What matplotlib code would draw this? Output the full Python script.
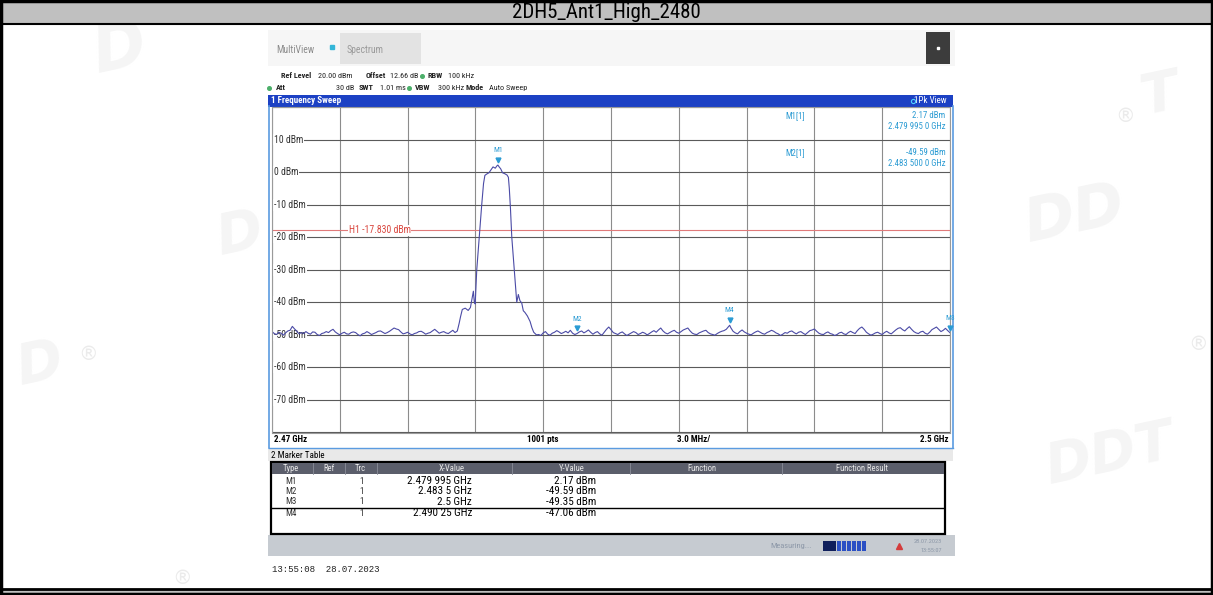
import matplotlib
matplotlib.use("Agg")
import matplotlib.pyplot as plt
from matplotlib.patches import Rectangle
from matplotlib import font_manager

W, H = 1213, 595

# ---- data ----
start_ghz = 2.47
stop_ghz = 2.5
ref_level = 20
bottom_level = -80
h1_level = -17.83
y_tick_levels = [10, 0, -10, -20, -30, -40, -50, -60, -70]

# trace: (MHz from start, dBm)
trace = [
    (0.0, -49.0), (0.1, -49.6), (0.2, -49.9), (0.3, -49.2), (0.4, -49.5), (0.5, -50.1),
    (0.6, -49.4), (0.7, -48.8), (0.8, -48.6), (0.9, -47.4), (1.0, -48.2), (1.1, -48.9),
    (1.2, -49.7), (1.3, -49.3), (1.4, -49.6), (1.5, -49.0), (1.6, -49.5), (1.7, -49.8),
    (1.8, -49.1), (1.9, -49.2), (2.0, -49.9), (2.1, -50.2), (2.2, -49.6), (2.3, -49.4),
    (2.4, -49.0), (2.5, -49.3), (2.6, -48.7), (2.7, -48.3), (2.8, -49.1), (2.9, -49.6),
    (3.0, -50.0), (3.1, -49.5), (3.2, -49.2), (3.3, -49.7), (3.4, -49.8), (3.5, -49.3),
    (3.6, -49.1), (3.7, -49.3), (3.8, -49.9), (3.9, -50.3), (4.0, -49.7), (4.1, -49.5),
    (4.2, -49.0), (4.3, -49.4), (4.4, -49.9), (4.5, -49.6), (4.6, -49.3), (4.7, -48.9),
    (4.8, -48.8), (4.9, -49.2), (5.0, -49.6), (5.1, -49.3), (5.2, -48.9), (5.3, -48.4),
    (5.4, -47.9), (5.5, -48.2), (5.6, -48.4), (5.7, -49.1), (5.8, -49.7), (5.9, -49.5),
    (6.0, -49.2), (6.1, -49.7), (6.2, -50.0), (6.3, -49.6), (6.4, -49.4), (6.5, -49.0),
    (6.6, -48.9), (6.7, -49.3), (6.8, -49.8), (6.9, -49.5), (7.0, -49.3), (7.1, -48.8),
    (7.2, -48.3), (7.3, -48.9), (7.4, -49.5), (7.5, -49.2), (7.6, -49.0), (7.7, -49.4),
    (7.8, -49.6), (7.9, -49.1), (8.0, -48.6), (8.1, -49.3), (8.2, -48.8), (8.28, -46.5),
    (8.34, -44.5), (8.42, -42.2), (8.55, -41.8), (8.68, -42.5), (8.78, -41.6), (8.86, -38.5),
    (8.91, -36.6), (8.95, -39.8), (8.99, -40.5), (9.06, -30.0), (9.17, -20.0), (9.28, -10.0),
    (9.36, -3.5), (9.42, -1.0), (9.5, -0.6), (9.6, -0.2), (9.7, 0.8), (9.78, 1.6),
    (9.88, 1.2), (9.95, 1.9), (9.995, 2.17), (10.05, 1.6), (10.12, 1.0), (10.2, -0.2),
    (10.3, -0.5), (10.4, -0.9), (10.46, -1.6), (10.5, -5.0), (10.55, -11.0), (10.61, -20.0),
    (10.72, -30.0), (10.83, -40.0), (10.9, -37.6), (10.97, -39.5), (11.05, -40.2), (11.12, -42.6),
    (11.19, -43.1), (11.3, -44.2), (11.42, -45.9), (11.5, -47.8), (11.58, -49.2), (11.7, -50.0),
    (11.8, -49.9), (11.9, -50.2), (12.0, -49.4), (12.1, -49.0), (12.2, -49.8), (12.3, -50.1),
    (12.4, -49.5), (12.5, -49.2), (12.6, -48.7), (12.7, -49.1), (12.8, -49.6), (12.9, -49.3),
    (13.0, -48.9), (13.1, -49.4), (13.2, -48.6), (13.3, -49.5), (13.4, -49.9), (13.5, -49.59),
    (13.6, -49.1), (13.7, -48.8), (13.8, -49.4), (13.9, -49.0), (14.0, -48.5), (14.1, -49.2),
    (14.2, -49.8), (14.3, -49.3), (14.4, -49.0), (14.5, -49.7), (14.6, -50.1), (14.7, -49.2),
    (14.8, -48.3), (14.9, -47.6), (15.0, -48.4), (15.1, -49.3), (15.2, -49.6), (15.3, -49.9),
    (15.4, -49.4), (15.5, -49.1), (15.6, -49.7), (15.7, -50.2), (15.8, -49.8), (15.9, -49.4),
    (16.0, -49.0), (16.1, -49.3), (16.2, -49.9), (16.3, -49.6), (16.4, -49.2), (16.5, -49.5),
    (16.6, -50.0), (16.7, -49.6), (16.8, -49.1), (16.9, -48.7), (17.0, -49.2), (17.1, -48.5),
    (17.2, -47.9), (17.3, -48.8), (17.4, -49.4), (17.5, -49.7), (17.6, -49.3), (17.7, -48.9),
    (17.8, -48.6), (17.9, -49.2), (18.0, -49.5), (18.1, -49.0), (18.2, -48.5), (18.3, -48.2),
    (18.4, -47.9), (18.5, -48.8), (18.6, -49.5), (18.7, -49.8), (18.8, -49.9), (18.9, -49.4),
    (19.0, -49.1), (19.1, -48.8), (19.2, -48.6), (19.3, -49.3), (19.4, -49.7), (19.5, -49.9),
    (19.6, -50.1), (19.7, -49.6), (19.8, -49.2), (19.9, -48.9), (20.0, -48.7), (20.1, -48.3),
    (20.2, -47.5), (20.25, -47.06), (20.3, -47.8), (20.4, -48.9), (20.5, -49.4), (20.6, -49.7),
    (20.7, -49.0), (20.8, -48.5), (20.9, -49.1), (21.0, -49.5), (21.1, -49.8), (21.2, -50.0),
    (21.3, -49.5), (21.4, -49.1), (21.5, -48.8), (21.6, -49.2), (21.7, -49.6), (21.8, -49.8),
    (21.9, -49.3), (22.0, -49.0), (22.1, -48.6), (22.2, -48.9), (22.3, -49.4), (22.4, -49.7),
    (22.5, -50.2), (22.6, -49.8), (22.7, -49.3), (22.8, -49.5), (22.9, -49.0), (23.0, -48.8),
    (23.1, -49.3), (23.2, -49.7), (23.3, -49.2), (23.4, -49.0), (23.5, -49.5), (23.6, -49.9),
    (23.7, -49.3), (23.8, -48.7), (23.9, -48.5), (24.0, -48.2), (24.1, -48.9), (24.2, -49.5),
    (24.3, -49.8), (24.4, -49.9), (24.5, -49.4), (24.6, -49.1), (24.7, -49.6), (24.8, -49.8),
    (24.9, -50.2), (25.0, -49.9), (25.1, -49.4), (25.2, -49.2), (25.3, -49.7), (25.4, -49.9),
    (25.5, -49.3), (25.6, -48.9), (25.7, -49.3), (25.8, -49.6), (25.9, -48.7), (26.0, -48.0),
    (26.1, -47.6), (26.2, -48.3), (26.3, -49.2), (26.4, -49.7), (26.5, -50.1), (26.6, -49.8),
    (26.7, -49.4), (26.8, -49.2), (26.9, -49.6), (27.0, -49.9), (27.1, -49.3), (27.2, -48.9),
    (27.3, -49.4), (27.4, -49.7), (27.5, -49.1), (27.6, -48.5), (27.7, -48.0), (27.8, -47.8),
    (27.9, -48.4), (28.0, -48.8), (28.1, -48.1), (28.2, -47.5), (28.3, -48.3), (28.4, -49.0),
    (28.5, -49.4), (28.6, -49.6), (28.7, -49.1), (28.8, -48.9), (28.9, -49.5), (29.0, -49.8),
    (29.1, -49.2), (29.2, -48.4), (29.3, -48.0), (29.4, -47.6), (29.5, -48.3), (29.6, -49.0),
    (29.7, -48.6), (29.8, -48.0), (29.9, -48.7), (30.0, -49.35),
]
trace_mhz = [p[0] for p in trace]
trace_dbm = [p[1] for p in trace]

marker_names = ["M1", "M2", "M3", "M4"]
marker_ghz = [2.479995, 2.4835, 2.5, 2.49025]
marker_dbm = [2.17, -49.59, -49.35, -47.06]
marker_x_text = ["2.479 995 GHz", "2.483 5 GHz", "2.5 GHz", "2.490 25 GHz"]
marker_y_text = ["2.17 dBm", "-49.59 dBm", "-49.35 dBm", "-47.06 dBm"]
table_cols = ["Type", "Ref", "Trc", "X-Value", "Y-Value", "Function", "Function Result"]


def _pick(names):
    have = {f.name for f in font_manager.fontManager.ttflist}
    for n in names:
        if n in have:
            return n
    return "DejaVu Sans"


UI = _pick(["Liberation Sans Narrow", "Roboto Condensed", "Liberation Sans"])
MONO = _pick(["Liberation Mono", "DejaVu Sans Mono"])

TRACE_C = "#4b4ba6"
MARK_C = "#2b9bd3"
BLUE_BAR = "#1c41c4"
FRAME_BLUE = "#5a9be0"

fig = plt.figure(figsize=(W / 100, H / 100), dpi=100)
bg = fig.add_axes([0, 0, 1, 1])
bg.set_xlim(0, W)
bg.set_ylim(H, 0)
bg.axis("off")


def rect(x0, y0, x1, y1, fc="none", ec="none", lw=1.0, z=1):
    bg.add_patch(Rectangle((x0, y0), x1 - x0, y1 - y0, fc=fc, ec=ec, lw=lw, zorder=z))


def txt(x, y, s, size=7, color="#222222", ha="left", weight="normal", family=UI, z=5):
    bg.text(x, y, s, fontsize=size, color=color, ha=ha, va="center",
            fontweight=weight, family=family, zorder=z)


# faint watermarks
for (wx, wy, s, sz) in [(120, 50, "D", 46), (240, 235, "D", 40), (1075, 215, "DD", 44),
                        (1110, 455, "DDT", 40), (880, 470, "D", 34), (40, 365, "D", 40),
                        (1160, 95, "T", 40)]:
    bg.text(wx, wy, s, fontsize=sz, color="#f5f5f5", fontweight="bold", style="italic",
            ha="center", va="center", rotation=12, zorder=0)
for (wx, wy) in [(1125, 117), (88, 355), (1198, 345), (182, 578)]:
    bg.text(wx, wy, "\u00ae", fontsize=14, color="#ebebeb", ha="center", va="center", zorder=0)

# title bar and outer frame
rect(0, 0, W, 24, fc="#c0c0c0", z=1)
bg.plot([0, W], [24, 24], color="black", lw=1.5, zorder=2)
bg.text(W / 2, 12, "2DH5_Ant1_High_2480", fontsize=15, ha="center", va="center",
        family=UI, color="black", zorder=3)
rect(0, 589, W, H, fc="#c0c0c0", z=1)
bg.plot([0, W], [589, 589], color="black", lw=2, zorder=2)
rect(1, 1, W - 1, H - 1, ec="black", lw=2.5, z=6)

# top of the analyser screen
rect(268, 30, 955, 66, fc="#f6f6f6", z=1)
rect(340, 33, 421, 64, fc="#e3e3e3", z=2)
rect(926, 32, 950, 64, fc="#3c3c3c", z=2)
bg.plot([938], [48], marker="s", ms=1.5, color="white", zorder=3)
txt(276, 50, "MultiView", size=7, color="#8c8c8c")
bg.plot([332], [47], marker="s", ms=2.5, color="#34b6d8", zorder=3)
txt(347, 50, "Spectrum", size=7, color="#9a9a9a")

dot_g = "#4caf6a"
row1 = [(281, "Ref Level", "bold"), (318, "20.00 dBm", "normal"), (366, "Offset", "bold"),
        (390, "12.66 dB", "normal"), (427, "RBW", "bold"), (448, "100 kHz", "normal")]
row2 = [(276, "Att", "bold"), (336, "30 dB", "normal"), (359, "SWT", "bold"),
        (380, "1.01 ms", "normal"), (415, "VBW", "bold"), (438, "300 kHz", "normal"),
        (466, "Mode", "bold"), (489, "Auto Sweep", "normal")]
for x, s, w in row1:
    txt(x, 76, s, size=5.9, weight=w, color="#222222")
for x, s, w in row2:
    txt(x, 88, s, size=5.9, weight=w, color="#222222")
for x, y in [(422, 76), (269, 88), (409, 88)]:
    bg.plot([x], [y], marker="o", ms=2.6, color=dot_g, zorder=5)

# blue title bar of the sweep window
rect(268, 95, 953, 106.5, fc=BLUE_BAR, z=2)
txt(271, 100.8, "1 Frequency Sweep", size=6.5, color="white", weight="bold")
txt(947, 100.8, "1Pk View", size=6.5, color="white", ha="right")
bg.plot([913], [100.8], marker="o", ms=3, mfc="none", mec="#4fd0ff", mew=0.8, zorder=5)

# window frame and x label row
bg.plot([268.5, 268.5], [106, 448], color=FRAME_BLUE, lw=1.2, zorder=3)
bg.plot([952.5, 952.5], [106, 448], color=FRAME_BLUE, lw=1.2, zorder=3)
bg.plot([268.5, 952.5], [448, 448], color=FRAME_BLUE, lw=1.0, zorder=3)
txt(274, 440, "2.47 GHz", size=6.5, color="black", weight="bold")
txt(543, 440, "1001 pts", size=6.5, color="black", ha="center", weight="bold")
txt(677, 440, "3.0 MHz/", size=6.5, color="black", weight="bold")
txt(948, 440, "2.5 GHz", size=6.5, color="black", ha="right", weight="bold")

# marker table
rect(268, 449, 953, 461, fc="#e9e9e9", z=2)
txt(271, 455, "2 Marker Table", size=6.5, color="black")
rect(270.5, 462, 945, 534, fc="white", ec="black", lw=1.6, z=3)
rect(271.5, 463, 944, 473.5, fc="#5b5e6b", z=4)
col_x = [291, 329, 360, 452, 572, 702, 862]
for cx, name in zip(col_x, table_cols):
    txt(cx, 468.5, name, size=6.2, color="#e8e8e8", ha="center")
for sx in [313, 345, 377, 512, 630, 782]:
    bg.plot([sx, sx], [463, 473.5], color="#8a8d99", lw=0.6, zorder=5)
row_y = [481, 491.5, 502, 513.5]
for ry, name, xv, yv in zip(row_y, marker_names, marker_x_text, marker_y_text):
    txt(291, ry, name, size=6.5, color="#333333", ha="center")
    txt(362, ry, "1", size=6.5, color="#333333", ha="center")
    txt(472, ry, xv, size=8, color="black", ha="right")
    txt(596, ry, yv, size=8, color="black", ha="right")
bg.plot([271.5, 944], [507.8, 507.8], color="black", lw=1.0, zorder=5)

# status bar
rect(268, 535, 955, 556, fc="#c6cbd1", z=2)
txt(770, 546, "Measuring...", size=6, color="#8d98a8")
rect(823, 541, 836, 551, fc="#0f1f5c", z=3)
for k in range(6):
    rect(837 + k * 5, 541, 841 + k * 5, 551, fc="#2a4fc4", z=3)
bg.plot([899], [546], marker="^", ms=4, color="#d43c3c", zorder=4)
txt(942, 541.5, "28.07.2023", size=4.5, color="#8d98a8", ha="right")
txt(942, 550, "13:55:07", size=4.5, color="#8d98a8", ha="right")
bg.text(272, 569, "13:55:08  28.07.2023", fontsize=6.5, family=MONO, color="#222222",
        va="center", ha="left", zorder=5)

# ---- spectrum axes ----
x0, x1, y0, y1 = 272, 950, 107, 432.5
ax = fig.add_axes([x0 / W, 1 - y1 / H, (x1 - x0) / W, (y1 - y0) / H])
ax.set_facecolor("white")
ax.set_xlim(start_ghz, stop_ghz)
ax.set_ylim(bottom_level, ref_level)
span = stop_ghz - start_ghz
ax.set_xticks([start_ghz + span * i / 10 for i in range(11)])
ax.set_yticks(list(range(bottom_level, ref_level + 1, 10)))
ax.tick_params(length=0, labelbottom=False, labelleft=False)
ax.grid(axis="x", color="#8c8c8c", lw=0.8)
ax.grid(axis="y", color="#5a5a5a", lw=0.8)
ax.set_axisbelow(True)
for sp in ax.spines.values():
    sp.set_color("#9a9a9a")
    sp.set_linewidth(0.8)

for lv in y_tick_levels:
    ax.text(start_ghz + span * 0.003, lv, f"{lv} dBm", fontsize=7, family=UI, color="#333333",
            ha="left", va="center", zorder=1.5,
            bbox=dict(fc="white", ec="none", pad=0.6))

ax.axhline(h1_level, color="#e07a7a", lw=0.8, zorder=1.6)
ax.text(2.4734, h1_level, "H1 -17.830 dBm", fontsize=7, family=UI, color="#d9473f",
        ha="left", va="center", zorder=1.7, bbox=dict(fc="white", ec="none", pad=0.3))

trace_ghz = [start_ghz + m / 1000 for m in trace_mhz]
ax.plot(trace_ghz, trace_dbm, color=TRACE_C, lw=0.8, zorder=2.5)

for name, fg, lv in zip(marker_names, marker_ghz, marker_dbm):
    ax.plot([fg], [lv + 1.6], marker="v", ms=3.5, color=MARK_C, zorder=4, clip_on=False)
    ax.text(fg, lv + 4.6, name, fontsize=5.5, family=UI, color=MARK_C, ha="center",
            va="center", zorder=4)

# marker readout in the top right
info_right = 2.4998
info_lbl = 2.4927
ax.text(info_lbl, 17.5, "M1[1]", fontsize=6.3, family=UI, color=MARK_C, ha="left", va="center")
ax.text(info_right, 17.5, "2.17 dBm", fontsize=6.3, family=UI, color=MARK_C, ha="right", va="center")
ax.text(info_right, 14.0, "2.479 995 0 GHz", fontsize=6.3, family=UI, color=MARK_C, ha="right", va="center")
ax.text(info_lbl, 6.0, "M2[1]", fontsize=6.3, family=UI, color=MARK_C, ha="left", va="center")
ax.text(info_right, 6.0, "-49.59 dBm", fontsize=6.3, family=UI, color=MARK_C, ha="right", va="center")
ax.text(info_right, 2.5, "2.483 500 0 GHz", fontsize=6.3, family=UI, color=MARK_C, ha="right", va="center")

fig.savefig("out.png", dpi=100, facecolor="white")
